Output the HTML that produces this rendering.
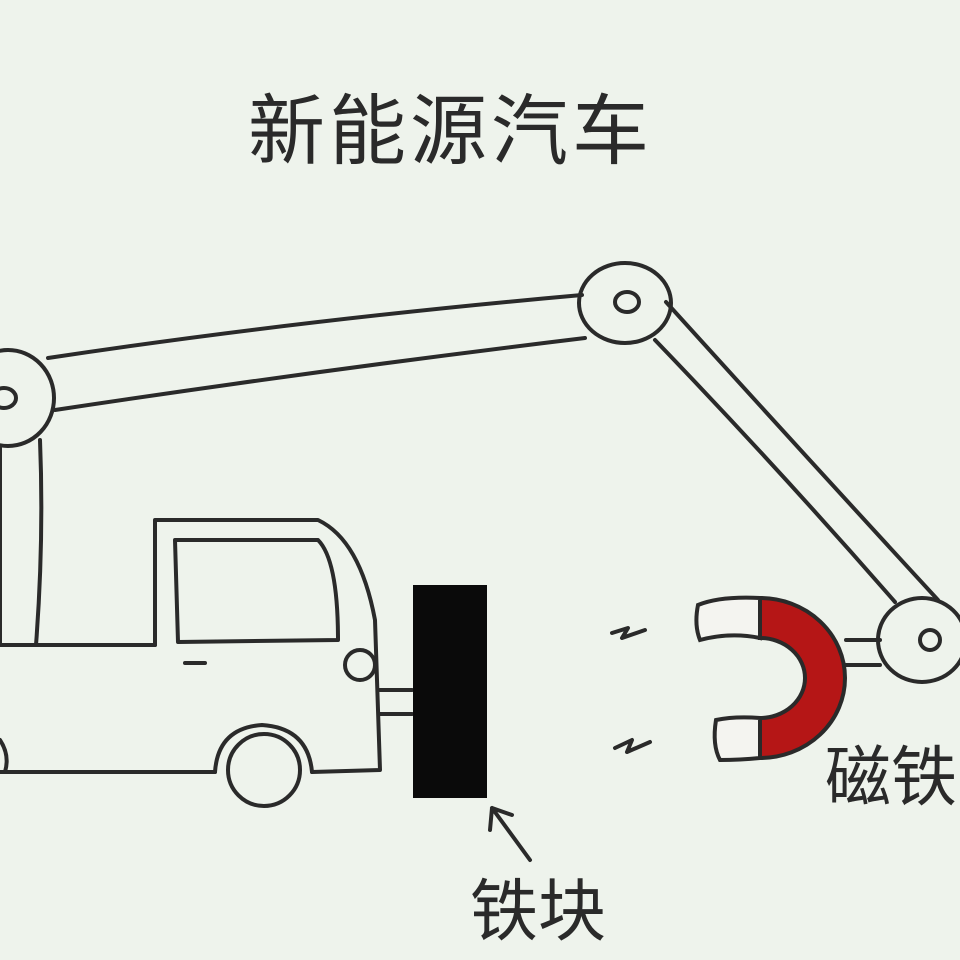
<!DOCTYPE html>
<html><head><meta charset="utf-8"><style>
html,body{margin:0;padding:0;background:#eef3ec;}
svg{display:block}
text{font-family:"Liberation Sans","Noto Sans CJK SC",sans-serif;fill:#2a2a2a}
</style></head><body>
<svg width="960" height="960" viewBox="0 0 960 960" xmlns="http://www.w3.org/2000/svg">
<rect width="960" height="960" fill="#eef3ec"/>
<text x="248" y="158" font-size="77" letter-spacing="4">新能源汽车</text>
<g fill="none" stroke="#2a2a2a" stroke-width="4" stroke-linecap="round" stroke-linejoin="round">
<ellipse cx="8" cy="398" rx="46" ry="48"/>
<ellipse cx="4" cy="398" rx="12" ry="10"/>
<path d="M40 440 Q44 540 36 645"/>
<path d="M0 448 L0 645"/>
<path d="M48 358 Q300 320 582 295"/>
<path d="M55 410 Q320 370 585 338"/>
<ellipse cx="625" cy="303" rx="46" ry="40"/>
<ellipse cx="627" cy="302" rx="12" ry="10"/>
<path d="M666 302 Q800 450 938 600"/>
<path d="M655 340 Q780 470 895 602"/>
<ellipse cx="922" cy="640" rx="44" ry="42"/>
<ellipse cx="930" cy="640" rx="10" ry="10"/>
<path d="M846 640 L880 640 M846 665 L880 665"/>
<path d="M0 645 L155 645"/>
<path d="M155 645 L155 520 L318 520 Q360 540 375 620 L380 770 L312 772"/>
<path d="M0 772 L215 772"/>
<path d="M215 772 Q218 728 262 725 Q308 728 312 772"/>
<path d="M175 540 L318 540 Q338 560 338 640 L178 642 Z"/>
<path d="M185 663 L205 663"/>
<circle cx="360" cy="665" r="15"/>
<circle cx="264" cy="770" r="36"/>
<path d="M380 690 L412 690 M380 714 L412 714"/>
<path d="M0 740 Q10 755 5 772"/>
<path d="M530 860 L492 808 M492 808 L490 830 M492 808 L512 815"/>
<path d="M612 633 L628 628 L622 638 L645 630"/>
<path d="M615 748 L632 740 L627 752 L650 742"/>
</g>
<rect x="413" y="585" width="74" height="213" fill="#0a0a0a"/>
<path d="M760 598 A85 80 0 0 1 760 758 L760 718 A45 40 0 0 0 760 638 Z" fill="#b51616" stroke="#2a2a2a" stroke-width="4"/>
<path d="M760 598 Q720 596 698 605 Q694 625 700 640 Q730 632 760 638 Z" fill="#f4f4f0" stroke="#2a2a2a" stroke-width="4"/>
<path d="M760 718 Q735 716 716 720 Q712 745 720 760 Q740 760 760 758 Z" fill="#f4f4f0" stroke="#2a2a2a" stroke-width="4"/>
<text x="470" y="935" font-size="68">铁块</text>
<text x="825" y="800" font-size="66">磁铁</text>
</svg>
</body></html>
